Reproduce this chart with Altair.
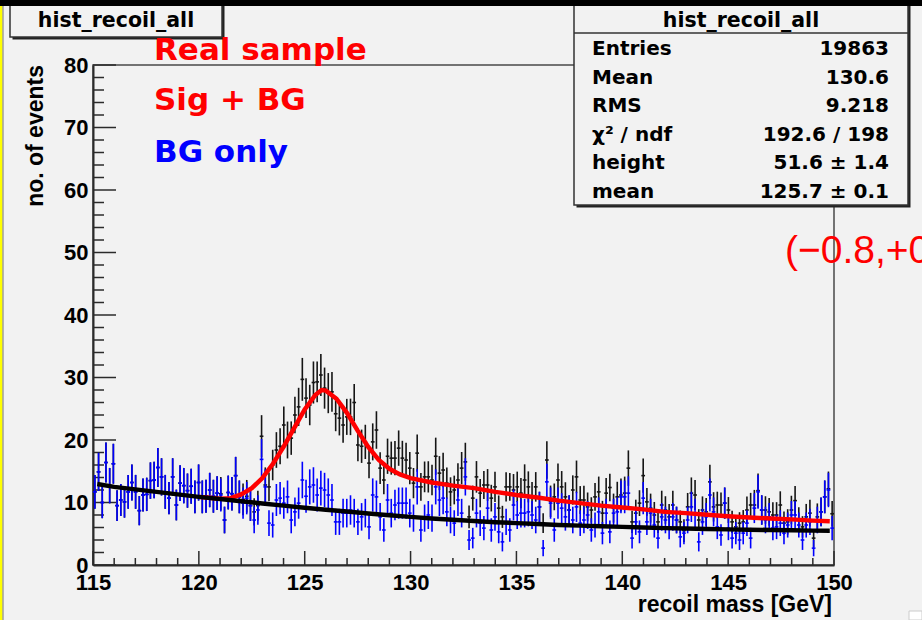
import altair as alt
import pandas as pd

# ---------------- data ----------------
N_BINS = 200
X_MIN, X_MAX = 115.0, 150.0

# "BG only" histogram (blue), one value per bin
bg_only = [
    11.7, 14.9, 10.0, 16.4, 12.7, 16.2, 9.5, 10.4, 10.1, 11.7, 13.2, 11.7, 8.7, 11.2, 11.3, 13.5,
    13.6, 15.6, 14.1, 11.7, 10.7, 14.1, 9.6, 13.1, 12.7, 11.9, 12.6, 10.9, 13.2, 10.9, 11.0, 12.0,
    11.0,
    11.5, 11.2, 7.2, 11.6, 11.4, 14.3, 10.9, 9.9, 10.7, 9.5, 7.2, 8.8, 16.9, 12.5, 6.7, 6.4, 10.4,
    10.7, 9.9, 10.9, 7.2, 8.5, 9.9, 13.6, 11.0, 12.5, 12.8, 11.2, 12.3, 12.0, 11.2, 10.4, 6.9,
    6.9, 8.3, 8.3, 8.8, 8.3, 6.9, 7.7, 8.3, 6.1, 11.2, 10.9, 7.7, 5.6, 10.4, 8.3, 9.6, 9.9, 9.9,
    9.9, 8.3, 7.5, 12.5, 5.6, 7.5, 8.0, 7.5, 12.5, 10.4, 10.7, 8.5, 7.2, 6.7, 10.4, 8.3,
    14.1, 4.0, 4.3, 8.3, 6.7, 5.9, 9.1, 5.6, 7.7, 5.3, 3.7, 6.9, 5.6, 9.6, 8.0, 8.3, 8.3, 8.5,
    8.0, 7.2, 9.3, 2.7, 13.3, 9.9, 5.6, 9.9, 9.1, 7.7, 8.8, 7.2, 9.3, 6.7, 7.2, 8.0,
    5.6, 6.4, 8.5, 5.1, 8.3, 5.3, 8.3, 8.5, 10.9, 10.9, 11.5, 4.3, 6.9, 5.3, 10.7, 6.9, 8.3, 6.4,
    4.3, 7.7, 7.2, 6.1, 7.7, 7.2, 4.5, 5.1, 7.2, 9.3, 8.3, 3.7, 6.9, 7.7, 11.2, 8.5,
    6.1, 4.8, 9.9, 5.9, 4.3, 5.1, 4.0, 5.1, 6.7, 4.3, 9.1, 11.7, 8.8, 7.2, 7.7, 5.9, 6.1, 6.7,
    5.1, 6.4, 8.0, 8.0, 6.4, 4.0, 6.4, 6.9, 2.7, 7.2, 8.5, 10.9, 12.0, 5.9,
]

# "Real sample" histogram (black), one value per bin
real_sample = [
    11.7, 14.9, 10.0, 16.4, 12.7, 16.2, 9.5, 10.4, 10.1, 11.7, 13.2, 11.7, 8.7, 11.2, 11.3, 13.5,
    13.6, 15.6, 14.1, 11.7, 10.7, 14.1, 9.6, 13.1, 12.7, 11.9, 12.6, 10.9, 13.2, 10.9, 11.0, 12.0,
    11.0,
    11.5, 11.4, 7.2, 11.6, 11.4, 14.3, 10.9, 10.5, 11.0, 9.5, 8.5, 9.5,
    20.6, 12.8, 12.5, 16.0, 18.4, 19.0, 22.4, 20.0, 20.3, 24.0, 25.3, 29.7, 26.7, 25.6, 29.2,
    29.3, 30.4, 28.3, 27.5, 27.7, 24.2, 23.5,
    22.4, 23.7, 23.7, 26.0, 19.2, 19.0, 19.7, 16.3, 19.7, 21.6, 15.5, 13.6, 17.4, 17.1, 17.1,
    18.7, 17.1, 16.8, 15.5, 13.1, 17.9, 12.5, 14.1, 14.1, 13.6, 17.4, 14.7, 15.2, 13.1, 11.7,
    12.0, 13.6, 15.5,
    16.5, 7.7, 10.7, 14.1, 11.5, 12.8, 12.8, 10.7, 12.5, 9.1, 7.7, 12.5, 12.5, 12.0, 12.5, 11.5,
    13.6, 12.5, 10.9, 12.5, 9.3, 6.7, 16.8, 10.2, 10.9, 13.6, 12.5, 10.9, 8.8, 12.0, 14.1, 10.4,
    10.4, 9.3,
    8.8, 10.9, 11.7, 8.3, 11.5, 12.4, 9.1, 10.9, 11.2, 11.5, 15.5, 6.9, 8.3, 9.9, 14.3, 10.1,
    9.1, 8.0, 6.9, 9.6, 8.8, 7.7, 9.6, 7.2, 6.9, 5.5, 9.3, 11.5, 11.2, 7.2, 8.8, 8.5, 13.3, 9.3,
    9.6, 9.6, 9.9, 8.8, 6.9, 6.1, 6.7, 6.9, 8.8, 9.6, 9.6, 11.9, 8.8, 8.8, 8.5, 8.0, 8.0, 9.6,
    6.7, 6.9, 8.8, 10.3, 7.2, 6.1, 7.7, 8.3, 4.3, 7.7, 8.5, 10.9, 12.2, 8.2,
]

# fitted curves
fit_sb_x = [120.0, 120.5, 121.0, 121.5, 122.0, 122.5, 123.0, 123.5, 124.0, 124.5, 125.0, 125.5,
            125.8, 126.0, 126.5, 127.0, 127.5, 128.0, 128.5, 129.0, 129.5, 130.0, 131, 132, 133,
            134, 135, 136, 137, 138, 139, 140, 141, 142, 143, 144, 145, 146, 147, 148, 149, 149.8]
fit_sb_y = [10.9, 10.75, 10.6, 10.7, 11.3, 12.3, 13.9, 16.2, 18.9, 21.9, 24.9, 27.2,
            28.0, 27.9, 26.6, 24.3, 21.5, 18.9, 16.8, 15.4, 14.5, 13.9, 13.2, 12.7, 12.3,
            11.7, 11.2, 10.8, 10.3, 9.9, 9.5, 9.2, 8.9, 8.5, 8.3, 8.05, 7.8, 7.6, 7.45, 7.3, 7.1, 7.0]

fit_bg_x = [115.2, 116, 117, 118, 119, 120, 121, 122, 123, 124, 125, 126, 127, 128, 129, 130,
            131, 132, 133, 134, 135, 136, 137, 138, 139, 140, 141, 142, 143, 144, 145, 146,
            147, 148, 149, 149.8]
fit_bg_y = [12.95, 12.5, 12.1, 11.7, 11.3, 10.9, 10.55, 10.2, 9.85, 9.5, 9.15, 8.85, 8.55, 8.25,
            7.95, 7.7, 7.45, 7.25, 7.05, 6.85, 6.7, 6.55, 6.4, 6.3, 6.2, 6.1, 6.0, 5.9, 5.85,
            5.75, 5.7, 5.65, 5.6, 5.55, 5.5, 5.5]

W_BG, W_SIG = 0.63, 0.2  # per-entry weights (for the error bars)

x_major = [115, 120, 125, 130, 135, 140, 145, 150]
x_minor = [v for v in range(116, 150) if v % 5]
y_major = [0, 10, 20, 30, 40, 50, 60, 70, 80]
y_minor = [v for v in range(2, 80, 2) if v % 10]

hist_name = "hist_recoil_all"
stat_names = ["Entries", "Mean", "RMS", "χ² / ndf", "height", "mean"]
stat_values = ["19863", "130.6", "9.218", "192.6 / 198", "51.6 ± 1.4", "125.7 ± 0.1"]
note_lines = ["Real sample", "Sig + BG", "BG only"]
note_colors = ["#ff0000", "#ff0000", "#0000ff"]
side_note = "(−0.8,+0"
x_title = "recoil mass [GeV]"
y_title = "no. of events"

# ---------------- build ----------------
bw = (X_MAX - X_MIN) / N_BINS
hist = pd.DataFrame({
    "x": [X_MIN + bw * (i + 0.5) for i in range(N_BINS)],
    "real": real_sample,
    "bg": bg_only,
})
fit_sb = pd.DataFrame({"x": fit_sb_x, "y": fit_sb_y})
fit_bg = pd.DataFrame({"x": fit_bg_x, "y": fit_bg_y})
one = pd.DataFrame({"k": [0]})

BG = "#f2f2f2"
AX = "#2b2b2b"
xs = alt.Scale(domain=[X_MIN, X_MAX], nice=False, zero=False)
ys = alt.Scale(domain=[0, 80], nice=False, zero=True)
xaxis = alt.Axis(values=x_major, format="d", title="", ticks=False, tickSize=0, grid=False,
                 domainColor=AX, domainWidth=2, labelFont="Liberation Sans",
                 labelFontWeight="bold", labelFontSize=22, labelColor="#000",
                 labelPadding=7, labelFlush=False, labelOverlap=False)
yaxis = alt.Axis(values=y_major, format="d", title="", ticks=False, tickSize=0, grid=False,
                 domainColor=AX, domainWidth=2, labelFont="Liberation Sans",
                 labelFontWeight="bold", labelFontSize=22, labelColor="#000",
                 labelPadding=5, labelFlush=False, labelOverlap=False)


def X(f):
    return alt.X(f, scale=xs, axis=xaxis)


def Y(f):
    return alt.Y(f, scale=ys, axis=yaxis)


half = bw / 2


def points(col, err_expr, color, width):
    base = alt.Chart(hist).transform_calculate(
        err=err_expr,
        lo=f"datum.{col} - datum.err",
        hi=f"datum.{col} + datum.err",
        xl=f"datum.x - {half}",
        xr=f"datum.x + {half}",
    )
    v = base.mark_rule(color=color, strokeWidth=width).encode(
        x=X("x:Q"), y=Y("lo:Q"), y2="hi:Q")
    h = base.mark_rule(color=color, strokeWidth=width).encode(
        x=X("xl:Q"), x2="xr:Q", y=Y(f"{col}:Q"))
    return [v, h]


black_pts = points("real", f"sqrt({W_BG}*datum.bg + {W_SIG}*(datum.real - datum.bg))", "#151515", 1.6)
blue_pts = points("bg", f"sqrt({W_BG}*datum.bg)", "#0000ff", 1.6)

red_line = alt.Chart(fit_sb).mark_line(color="#ff0000", strokeWidth=4.5).encode(
    x=X("x:Q"), y=Y("y:Q"))
bg_line = alt.Chart(fit_bg).mark_line(color="#000000", strokeWidth=4.5).encode(
    x=X("x:Q"), y=Y("y:Q"))

# inward ROOT-style ticks
def yticks(vals, length):
    return alt.Chart(pd.DataFrame({"v": vals})).mark_rule(color=AX, strokeWidth=1.5).encode(
        y=Y("v:Q"), x=alt.value(0), x2=alt.value(length))


def xticks(vals, length):
    return alt.Chart(pd.DataFrame({"v": vals})).mark_rule(color=AX, strokeWidth=1.5).encode(
        x=X("v:Q"), y=alt.value(500), y2=alt.value(500 - length))


def rect(x1, x2, y1, y2, **kw):
    return alt.Chart(one).mark_rect(**kw).encode(
        x=alt.value(x1), x2=alt.value(x2), y=alt.value(y1), y2=alt.value(y2))


def text(t, x, y, **kw):
    return alt.Chart(one).mark_text(**kw).encode(
        x=alt.value(x), y=alt.value(y), text=alt.value(t))


layers = [
    yticks(y_minor, 11), yticks(y_major, 23), xticks(x_minor, 7), xticks(x_major, 14),
    *black_pts, *blue_pts, red_line, bg_line,
    # axis titles
    text(y_title, -49.7, 0, angle=270, align="right", baseline="alphabetic",
         font="Liberation Sans", fontWeight="bold", fontSize=23, color="#000"),
    text(x_title, 739, 546.7, align="right", baseline="alphabetic",
         font="Liberation Sans", fontWeight="bold", fontSize=23, color="#000"),
    # title box
    rect(-80.5, 131.5, -65, -25.5, color="#222222"),
    rect(-83, 129, -65, -28, fill=BG, stroke="#333333", strokeWidth=1.5),
    text(hist_name, 23, -38, align="center", baseline="alphabetic",
         font="DejaVu Sans", fontWeight="bold", fontSize=20.5, color="#000"),
    # stats box
    rect(483.5, 817.5, -65, 142.5, color="#222222"),
    rect(481, 815, -65, 140, fill=BG, stroke="#333333", strokeWidth=1.5),
    alt.Chart(one).mark_rule(color="#333333", strokeWidth=1.5).encode(
        x=alt.value(481), x2=alt.value(815), y=alt.value(-32)),
    text(hist_name, 648, -38, align="center", baseline="alphabetic",
         font="DejaVu Sans", fontWeight="bold", fontSize=20.5, color="#000"),
    text(stat_names, 499, -10, align="left", baseline="alphabetic", lineHeight=28.6,
         font="DejaVu Sans", fontWeight="bold", fontSize=20, color="#000"),
    text(stat_values, 796, -10, align="right", baseline="alphabetic", lineHeight=28.6,
         font="DejaVu Sans", fontWeight="bold", fontSize=20, color="#000"),
    # annotations
    text(note_lines[0], 61, -5, align="left", baseline="alphabetic",
         font="DejaVu Sans", fontWeight="bold", fontSize=31, color=note_colors[0]),
    text(note_lines[1], 61, 45, align="left", baseline="alphabetic",
         font="DejaVu Sans", fontWeight="bold", fontSize=31, color=note_colors[1]),
    text(note_lines[2], 61, 96.5, align="left", baseline="alphabetic",
         font="DejaVu Sans", fontWeight="bold", fontSize=31, color=note_colors[2]),
    text(side_note, 692, 198, align="left", baseline="alphabetic",
         font="Liberation Sans", fontSize=39, color="#ff0000"),
    # window decorations
    rect(-93, 829, -65, -59, color="#000000"),
    rect(-93, -90.5, -59, 555, color="#ffff00"),
    alt.Chart(one).mark_rule(color="#777777", strokeWidth=1).encode(
        x=alt.value(-90), y=alt.value(-59), y2=alt.value(555)),
    rect(816, 829, 546, 555, fill="#ffffff", stroke="#cccccc", strokeWidth=1),
]

chart = alt.layer(*layers).properties(
    width=741, height=500,
    padding={"left": 93, "top": 65, "right": 88, "bottom": 55},
    autosize=alt.AutoSizeParams(type="none"),
    background=BG,
).configure_view(stroke="#4a4a4a", strokeWidth=1.5)

chart.save("out.html", embed_options={"renderer": "svg", "actions": False})
